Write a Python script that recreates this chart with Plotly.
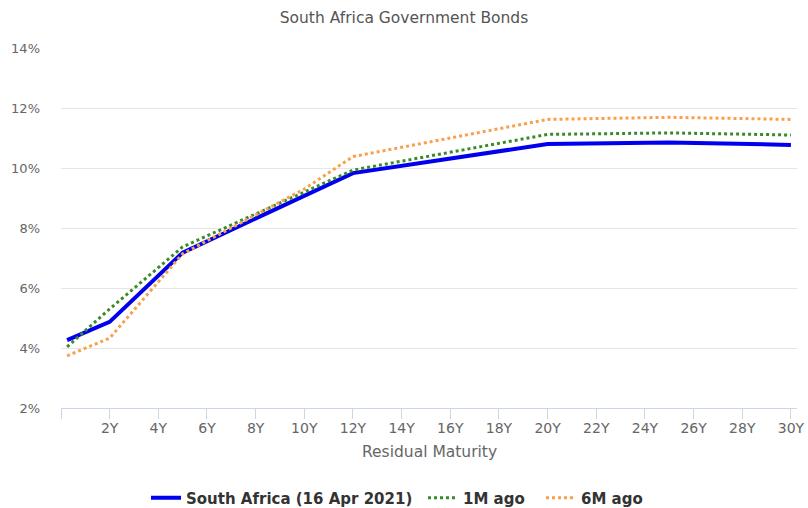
import plotly.graph_objects as go

maturities = [0.25, 2, 5, 10, 12, 20, 25, 30]
current = [4.26, 4.87, 7.18, 9.08, 9.83, 10.80, 10.85, 10.77]
one_month = [4.04, 5.30, 7.37, 9.18, 9.93, 11.12, 11.17, 11.10]
six_month = [3.74, 4.33, 7.14, 9.30, 10.38, 11.62, 11.69, 11.62]

series_names = ["South Africa (16 Apr 2021)", "1M ago", "6M ago"]
x_tickvals = [0, 2, 4, 6, 8, 10, 12, 14, 16, 18, 20, 22, 24, 26, 28, 30]
x_ticktext = [""] + [f"{v}Y" for v in x_tickvals[1:]]
y_tickvals = [2, 4, 6, 8, 10, 12, 14]
y_ticktext = [f"{v}%" for v in y_tickvals]

fig = go.Figure()
fig.add_trace(go.Scatter(x=maturities, y=current, mode="lines", name=series_names[0],
                         line=dict(color="#0000ee", width=4), legend="legend"))
fig.add_trace(go.Scatter(x=maturities, y=one_month, mode="lines", name=series_names[1],
                         line=dict(color="#3a8a2c", width=3, dash="dot"), legend="legend2"))
fig.add_trace(go.Scatter(x=maturities, y=six_month, mode="lines", name=series_names[2],
                         line=dict(color="#f9a04a", width=3, dash="dot"), legend="legend3"))

H = 508
plot_w = 736
plot_h = 360
leg_font = dict(family="DejaVu Sans", size=15, color="#333333", weight="bold")
leg_y = -(498 - 408) / plot_h


def leg(px):
    return dict(orientation="h", x=(px - 61) / plot_w, xanchor="left",
                y=leg_y, yanchor="middle", font=leg_font, itemwidth=30,
                bgcolor="rgba(0,0,0,0)")


fig.update_layout(
    width=808, height=H,
    margin=dict(l=61, r=11, t=48, b=100, autoexpand=False),
    paper_bgcolor="white", plot_bgcolor="white",
    font=dict(family="DejaVu Sans", color="#666666"),
    title=dict(text="South Africa Government Bonds", x=0.5, xanchor="center",
               yref="container", y=1 - 18 / H, yanchor="middle",
               font=dict(family="DejaVu Sans", size=15.5, color="#555555")),
    showlegend=True,
    legend=leg(146),
    legend2=leg(423),
    legend3=leg(541),
    xaxis=dict(range=[0, 30.25], tickvals=x_tickvals, ticktext=x_ticktext,
               showgrid=False, zeroline=False, showline=True, linecolor="#ccd6eb", linewidth=1,
               ticks="outside", ticklen=10, tickcolor="#ccd6eb", tickwidth=1,
               ticklabelstandoff=-3, ticklabeloverflow="allow",
               tickfont=dict(size=14, color="#666666")),
    yaxis=dict(range=[2, 14], tickvals=y_tickvals, ticktext=y_ticktext,
               showgrid=True, gridcolor="#e6e6e6", gridwidth=1, zeroline=False,
               showline=False, ticks="", ticklabelstandoff=20,
               tickfont=dict(size=13, color="#666666")),
    annotations=[dict(text="Residual Maturity", xref="paper", yref="paper",
                      x=0.5, y=-(452 - 408) / plot_h, xanchor="center", yanchor="middle",
                      showarrow=False, font=dict(family="DejaVu Sans", size=15.5, color="#666666"))],
)

fig.write_html("out.html")
